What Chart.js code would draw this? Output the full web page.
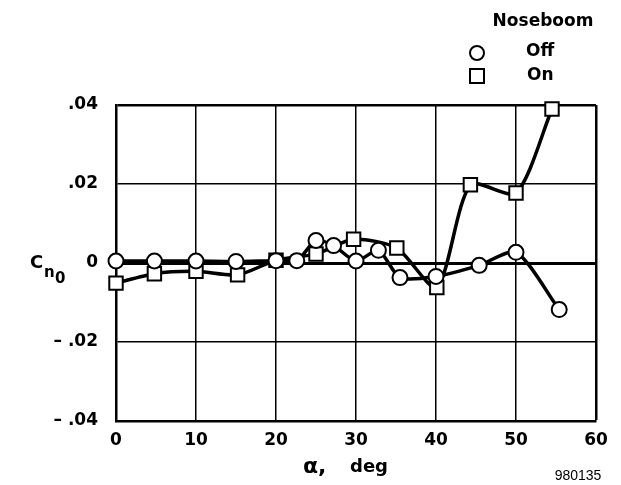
<!DOCTYPE html>
<html>
<head>
<meta charset="utf-8">
<script src="https://cdn.jsdelivr.net/npm/chart.js@4/dist/chart.umd.min.js"></script>
<style>
  html, body { margin: 0; padding: 0; background: #fff; }
  #c { display: block; }
</style>
</head>
<body>
<canvas id="c" width="621" height="485"></canvas>
<script>
// ---- data ----
const alphaOff = [0, 4.8, 10, 15, 20, 22.6, 25, 27.2, 30, 32.8, 35.5, 40, 45.4, 50, 55.4];
const cnOff    = [0.0005, 0.0005, 0.0005, 0.0004, 0.0006, 0.0006, 0.0057, 0.0044, 0.0005, 0.0032, -0.0037, -0.0034, -0.0006, 0.0027, -0.0118];
const alphaOn  = [0, 4.8, 10, 15.2, 20, 25, 29.7, 35.1, 40.1, 44.3, 50, 54.5];
const cnOn     = [-0.0051, -0.0027, -0.0021, -0.003, 0.0007, 0.0023, 0.006, 0.0038, -0.0062, 0.0198, 0.0177, 0.039];

const xTickValues = [0, 10, 20, 30, 40, 50, 60];
const xTickLabels = ['0', '10', '20', '30', '40', '50', '60'];
const yTickValues = [-0.04, -0.02, 0, 0.02, 0.04];
const yTickLabels = ['\u2013 .04', '\u2013 .02', '0', '.02', '.04'];

const seriesNames = ['Off', 'On'];
const legendTitle = 'Noseboom';
const xTitleSymbol = '\u03B1,';
const xTitleText = 'deg';
const yTitleMain = 'C';
const yTitleSub1 = 'n';
const yTitleSub2 = '0';
const figureId = '980135';

const FONT = '"DejaVu Sans", "Liberation Sans", sans-serif';

function toPoints(xs, ys) { return xs.map((x, i) => ({ x: x, y: ys[i] })); }

const textPlugin = {
  id: 'textPlugin',
  afterDraw(chart) {
    const ctx = chart.ctx;
    ctx.save();
    ctx.fillStyle = '#000';
    ctx.strokeStyle = '#000';
    // legend
    ctx.font = 'bold 17px ' + FONT;
    ctx.textAlign = 'center';
    ctx.textBaseline = 'middle';
    ctx.fillText(legendTitle, 543, 22);
    ctx.textAlign = 'left';
    ctx.fillText(seriesNames[0], 526, 52);
    ctx.fillText(seriesNames[1], 527, 76);
    ctx.lineWidth = 2;
    ctx.fillStyle = '#fff';
    ctx.beginPath(); ctx.arc(477, 53, 7, 0, Math.PI * 2); ctx.fill(); ctx.stroke();
    ctx.beginPath(); ctx.rect(470, 69, 14, 14); ctx.fill(); ctx.stroke();
    ctx.fillStyle = '#000';
    // y title
    ctx.textAlign = 'left';
    ctx.textBaseline = 'alphabetic';
    ctx.font = 'bold 18px ' + FONT;
    ctx.fillText(yTitleMain, 30, 268);
    ctx.font = 'bold 15px ' + FONT;
    ctx.fillText(yTitleSub1, 44, 277);
    ctx.fillText(yTitleSub2, 55, 283);
    // x title
    ctx.font = 'bold 22px ' + FONT;
    ctx.fillText(xTitleSymbol, 303, 473);
    ctx.font = 'bold 18px ' + FONT;
    ctx.fillText(xTitleText, 350, 472);
    // figure id
    ctx.font = '14px "Liberation Sans", Arial, sans-serif';
    ctx.textAlign = 'center';
    ctx.fillText(figureId, 578, 480);
    ctx.restore();
  }
};

new Chart(document.getElementById('c'), {
  type: 'line',
  data: {
    datasets: [
      {
        label: seriesNames[0],
        data: toPoints(alphaOff, cnOff),
        borderColor: '#000',
        borderWidth: 3.5,
        tension: 0.25,
        clip: false,
        pointStyle: 'circle',
        pointRadius: 7.5,
        pointBackgroundColor: '#fff',
        pointBorderColor: '#000',
        pointBorderWidth: 2,
        fill: false
      },
      {
        label: seriesNames[1],
        data: toPoints(alphaOn, cnOn),
        borderColor: '#000',
        borderWidth: 3.5,
        tension: 0.25,
        clip: false,
        pointStyle: 'rect',
        pointRadius: 9.5,
        pointBackgroundColor: '#fff',
        pointBorderColor: '#000',
        pointBorderWidth: 2,
        fill: false
      }
    ]
  },
  options: {
    responsive: false,
    devicePixelRatio: 1,
    animation: false,
    events: [],
    layout: { padding: { top: 105, right: 25, left: 0, bottom: 0 } },
    plugins: { legend: { display: false }, tooltip: { enabled: false } },
    scales: {
      x: {
        type: 'linear',
        min: 0, max: 60,
        afterBuildTicks(scale) { scale.ticks = xTickValues.map(v => ({ value: v })); },
        afterFit(scale) { scale.height = 64; },
        ticks: {
          color: '#000',
          font: { family: FONT, size: 17, weight: 'bold' },
          padding: 9,
          maxRotation: 0,
          autoSkip: false,
          callback(v) { const i = xTickValues.indexOf(v); return i >= 0 ? xTickLabels[i] : ''; }
        },
        grid: {
          drawTicks: false,
          color: '#000',
          lineWidth(ctx) { return ctx.tick && ctx.tick.value === 60 ? 2.5 : 1.5; }
        },
        border: { display: true, color: '#000', width: 2.5 }
      },
      y: {
        type: 'linear',
        min: -0.04, max: 0.04,
        afterBuildTicks(scale) { scale.ticks = yTickValues.map(v => ({ value: v })); },
        afterFit(scale) { scale.width = 116; },
        ticks: {
          color: '#000',
          font: { family: FONT, size: 17, weight: 'bold' },
          padding: 18,
          autoSkip: false,
          callback(v) {
            const i = yTickValues.findIndex(t => Math.abs(t - v) < 1e-9);
            return i >= 0 ? yTickLabels[i] : '';
          }
        },
        grid: {
          drawTicks: false,
          color: '#000',
          lineWidth(ctx) {
            if (!ctx.tick) return 1.5;
            if (Math.abs(ctx.tick.value) < 1e-9) return 3;
            if (Math.abs(ctx.tick.value - 0.04) < 1e-9) return 2.5;
            return 1.5;
          }
        },
        border: { display: true, color: '#000', width: 2.5 }
      }
    }
  },
  plugins: [textPlugin]
});
</script>
</body>
</html>
